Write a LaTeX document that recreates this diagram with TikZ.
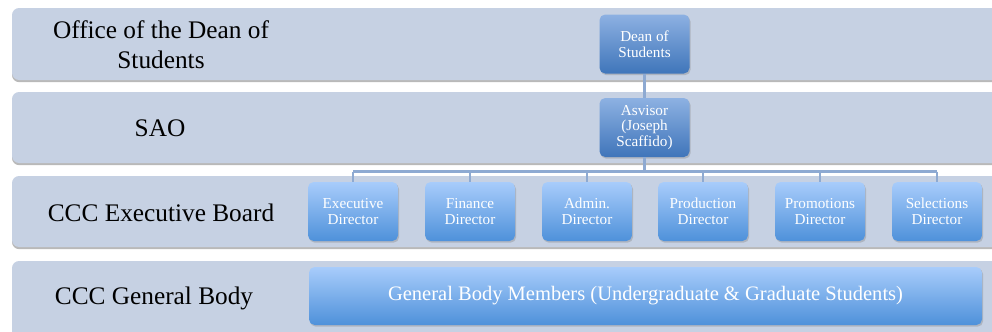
\documentclass[tikz,border=0pt]{standalone}
\usepackage{fontspec}
\setmainfont{Liberation Serif}
\usetikzlibrary{shadows}
\definecolor{bandblue}{HTML}{C6D1E3}
\definecolor{boxtop}{HTML}{A8CCFB}
\definecolor{boxbot}{HTML}{4E91DA}
\definecolor{headtop}{HTML}{8DB1E2}
\definecolor{headbot}{HTML}{3F75BA}
\definecolor{linkblue}{HTML}{8EAAD2}
\tikzset{
  band/.style={fill=bandblue,rounded corners=5pt,drop shadow={opacity=0.55,shadow xshift=0pt,shadow yshift=-1.5pt}},
  bandtext/.style={font=\fontsize{18}{21.5}\selectfont,align=center},
  unit/.style={rounded corners=4pt,top color=boxtop,bottom color=boxbot,text=white,align=center,
    font=\fontsize{10.8}{11}\selectfont,minimum width=90*0.025cm,minimum height=59*0.025cm,inner sep=1pt,
    drop shadow={opacity=0.35,shadow xshift=0.8pt,shadow yshift=-1.2pt}},
  head/.style={unit,top color=headtop,bottom color=headbot},
  link/.style={linkblue,line width=1.6pt}
}
\begin{document}
\begin{tikzpicture}[x=0.025cm,y=-0.025cm]
  \useasboundingbox (0,0) rectangle (992,331);
  \clip (0,0) rectangle (992,331);
  % the four levels
  \path[band] (12,8) rectangle (1010,80);
  \path[band] (12,92) rectangle (1010,163);
  \path[band] (12,176) rectangle (1010,247);
  \path[band] (12,261) rectangle (1010,345);
  \node[bandtext] (office) at (161,45) {Office of the Dean of\\Students};
  \node[bandtext] (sao) at (160,128) {SAO};
  \node[bandtext] (board) at (161,213) {CCC Executive Board};
  \node[bandtext] (body) at (154,298) {CCC General Body};
  % boxes
  \coordinate (bus) at (0,171.5);
  \draw[link] (353,171.5) -- (937,171.5);
  \node[head] (dean) at (644.5,44) {Dean of\\Students};
  \node[head] (adv) at (644.5,127.5) {Asvisor\\(Joseph\\Scaffido)};
  \draw[link] (dean) -- (adv);
  \draw[link] (adv) -- (adv |- bus);
  \foreach \n/\x/\t in {exe/353/Executive,fin/470/Finance,adm/587/Admin.,pro/703/Production,prm/820/Promotions,sel/937/Selections}{
    \draw[link] (\x,171.5) -- (\x,185);
    \node[unit] (\n) at (\x,211.5) {\t\\Director};
  }
  \node[unit,minimum width=673*0.025cm,minimum height=58*0.025cm,font=\fontsize{14.6}{16}\selectfont]
    (gbm) at (645.5,296) {General Body Members (Undergraduate \& Graduate Students)};
\end{tikzpicture}
\end{document}
